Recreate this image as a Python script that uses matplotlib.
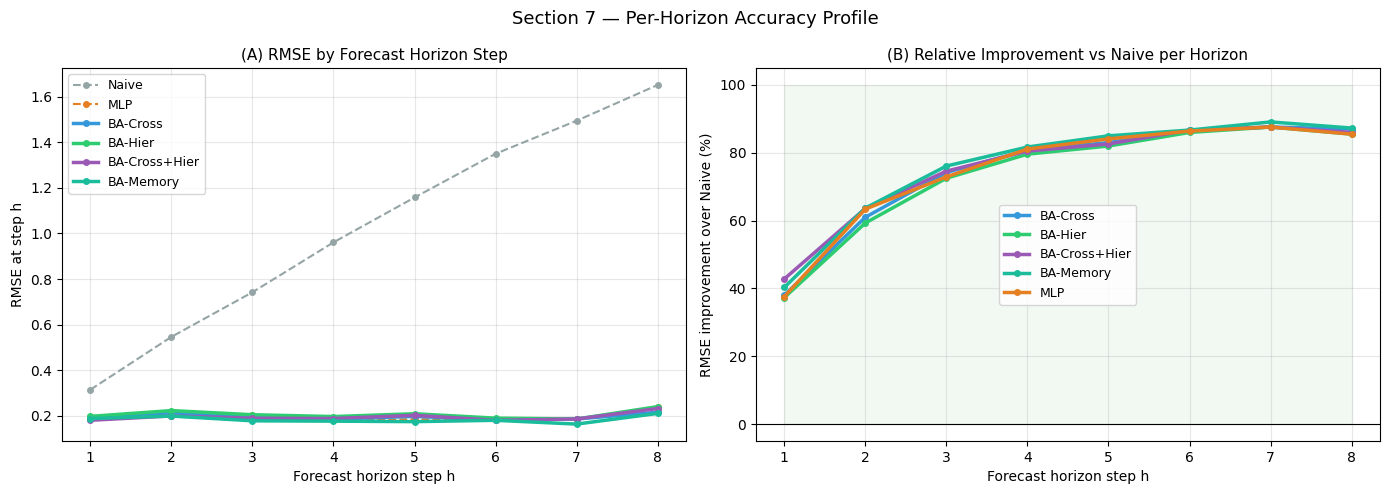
import matplotlib
matplotlib.use("Agg")
import matplotlib.pyplot as plt
import numpy as np

horizons = [1, 2, 3, 4, 5, 6, 7, 8]
naive_rmse = [0.314, 0.546, 0.742, 0.961, 1.158, 1.350, 1.495, 1.652]

# Relative improvement over Naive (%)
imp_cross = [38.0, 61.0, 74.2, 80.8, 83.0, 86.6, 87.6, 87.0]
imp_hier = [37.3, 59.3, 72.5, 79.6, 82.0, 86.0, 87.6, 85.5]
imp_crosshier = [42.8, 63.6, 74.6, 80.5, 82.6, 86.7, 87.6, 86.0]
imp_memory = [40.3, 63.7, 76.1, 81.7, 85.0, 86.7, 89.1, 87.3]
imp_mlp = [37.6, 63.4, 72.9, 81.1, 84.1, 86.4, 87.6, 85.5]

names = ["BA-Cross", "BA-Hier", "BA-Cross+Hier", "BA-Memory", "MLP"]
colors = {"Naive": "#95a5a6", "MLP": "#e67e22", "BA-Cross": "#3498db",
          "BA-Hier": "#2ecc71", "BA-Cross+Hier": "#9b59b6", "BA-Memory": "#1abc9c"}
imps = {"BA-Cross": imp_cross, "BA-Hier": imp_hier, "BA-Cross+Hier": imp_crosshier,
        "BA-Memory": imp_memory, "MLP": imp_mlp}

naive = np.array(naive_rmse)
rmse = {k: naive * (1 - np.array(v) / 100.0) for k, v in imps.items()}

fig, (ax1, ax2) = plt.subplots(1, 2, figsize=(13.9, 4.95), dpi=100)

ax1.plot(horizons, naive_rmse, "--o", color=colors["Naive"], lw=1.5, ms=4, label="Naive")
ax1.plot(horizons, rmse["MLP"], "--o", color=colors["MLP"], lw=1.5, ms=4, label="MLP")
for k in ["BA-Cross", "BA-Hier", "BA-Cross+Hier", "BA-Memory"]:
    ax1.plot(horizons, rmse[k], "-o", color=colors[k], lw=2.5, ms=4, label=k)
ax1.set_title("(A) RMSE by Forecast Horizon Step", fontsize=11)
ax1.set_xlabel("Forecast horizon step h")
ax1.set_ylabel("RMSE at step h")
ax1.set_xticks(horizons)
ax1.grid(True, alpha=0.3)
ax1.legend(loc="upper left", fontsize=9)

ax2.fill_between(horizons, 0, 100, color="green", alpha=0.05)
ax2.axhline(0, color="black", lw=0.8)
for k in names:
    ax2.plot(horizons, imps[k], "-o", color=colors[k], lw=2.5, ms=4, label=k)
ax2.set_title("(B) Relative Improvement vs Naive per Horizon", fontsize=11)
ax2.set_xlabel("Forecast horizon step h")
ax2.set_ylabel("RMSE improvement over Naive (%)")
ax2.set_xticks(horizons)
ax2.set_ylim(-5, 105)
ax2.grid(True, alpha=0.3)
ax2.legend(loc="center", fontsize=9)

fig.suptitle("Section 7 \u2014 Per-Horizon Accuracy Profile", fontsize=13)
fig.subplots_adjust(left=0.0446, right=0.9928, top=0.8626, bottom=0.109, wspace=0.112)
fig.savefig("out.png", dpi=100)
